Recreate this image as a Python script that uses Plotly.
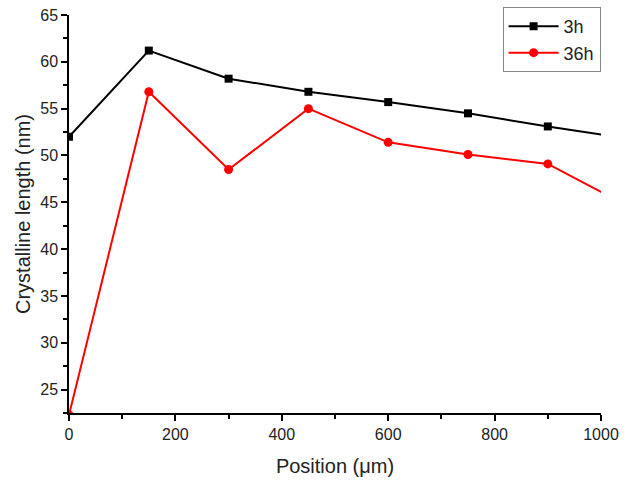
import plotly.graph_objects as go

positions = [0, 150, 300, 450, 600, 750, 900, 1050]
series_3h = [52.0, 61.2, 58.2, 56.8, 55.7, 54.5, 53.1, 51.8]
series_36h = [22.3, 56.8, 48.5, 55.0, 51.4, 50.1, 49.1, 44.6]
x_ticks = [0, 200, 400, 600, 800, 1000]
y_ticks = [25, 30, 35, 40, 45, 50, 55, 60, 65]

FONT = "Liberation Sans, Arial, sans-serif"
TXT = "#222"

fig = go.Figure()
fig.add_trace(go.Scatter(
    x=positions, y=series_3h, name="3h", mode="lines+markers",
    line=dict(color="black", width=2),
    marker=dict(symbol="square", size=8, color="black"),
))
fig.add_trace(go.Scatter(
    x=positions, y=series_36h, name="36h", mode="lines+markers",
    line=dict(color="#ff0000", width=2),
    marker=dict(symbol="circle", size=9, color="#ff0000"),
))

axis_common = dict(
    showgrid=False, zeroline=False, showline=True, linecolor="black", linewidth=1.5,
    ticks="outside", ticklen=6, tickwidth=1.5, tickcolor="black",
    tickfont=dict(family=FONT, size=16, color=TXT),
    mirror=False,
)

fig.update_xaxes(
    range=[0, 1000], tickvals=x_ticks,
    minor=dict(dtick=100, ticks="outside", ticklen=4, tickwidth=1.5, tickcolor="black"),
    title=dict(text="Position (μm)", font=dict(family=FONT, size=20, color=TXT), standoff=17),
    **axis_common,
)
fig.update_yaxes(
    range=[22.5, 65], tickvals=y_ticks,
    minor=dict(dtick=2.5, tick0=0, ticks="outside", ticklen=4, tickwidth=1.5, tickcolor="black"),
    title=dict(text="Crystalline length (nm)", font=dict(family=FONT, size=20, color=TXT), standoff=4),
    **axis_common,
)

fig.update_layout(
    width=629, height=482,
    margin=dict(l=69, r=28, t=15, b=69, autoexpand=False),
    paper_bgcolor="white", plot_bgcolor="white",
    font=dict(family=FONT, color=TXT),
    showlegend=True,
    legend=dict(
        x=0.815, y=1.02, xanchor="left", yanchor="top",
        bordercolor="#888", borderwidth=1, bgcolor="white",
        font=dict(family=FONT, size=18, color=TXT),
        tracegroupgap=0, itemwidth=50,
    ),
)

fig.write_html("out.html", config={"displayModeBar": False},
               post_script="document.body.style.margin='0px';")
